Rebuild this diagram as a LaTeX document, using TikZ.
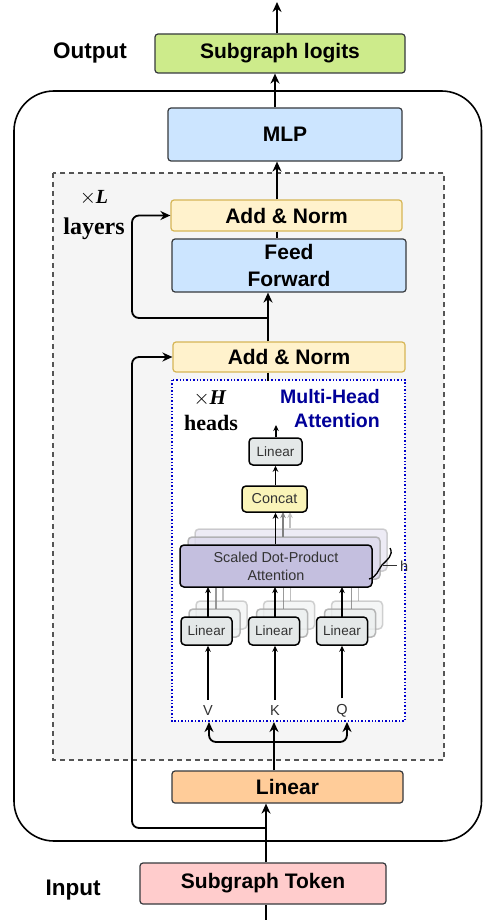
\documentclass[tikz,border=0pt]{standalone}
\usepackage{fontspec}
\setmainfont{Liberation Serif}
\setsansfont{Liberation Sans}
\usetikzlibrary{arrows.meta,calc}
\definecolor{cborder}{HTML}{36393D}
\definecolor{cgreen}{HTML}{CDEB8B}
\definecolor{cblue}{HTML}{CCE5FF}
\definecolor{cyel}{HTML}{FFF2CC}
\definecolor{cyelb}{HTML}{D6B656}
\definecolor{corange}{HTML}{FFCC99}
\definecolor{cpink}{HTML}{FFCCCC}
\definecolor{cdash}{HTML}{F5F5F5}
\definecolor{cdashb}{HTML}{555555}
\definecolor{cdot}{HTML}{0000CC}
\definecolor{cmha}{HTML}{000099}
\definecolor{clav}{HTML}{C4BFDF}
\definecolor{cconcat}{HTML}{FAF4B8}
\definecolor{clin}{HTML}{E4E8E8}
\definecolor{ctxt}{HTML}{333333}
\begin{document}
\begin{tikzpicture}[x=1pt,y=-1pt,
  box/.style={draw=cborder, line width=1.2pt, rounded corners=3pt, inner sep=0pt,
    font=\sffamily\bfseries\fontsize{21}{27}\selectfont, align=center},
  anbox/.style={box, draw=cyelb, fill=cyel},
  arr/.style={line width=1.8pt, -{Stealth[length=10pt,width=9pt]}},
  ln/.style={line width=1.8pt},
  lbl/.style={font=\sffamily\bfseries\fontsize{22.5}{27}\selectfont, inner sep=0pt},
  sm/.style={draw=black, line width=1.5pt, rounded corners=4pt, inner sep=0pt,
    text=ctxt, font=\sffamily\fontsize{13.5}{17}\selectfont, align=center},
  smsh/.style={draw=gray!70, line width=1.5pt, rounded corners=4pt},
  sarr/.style={line width=1.6pt, -{Stealth[length=6pt,width=5.5pt]}},
]
\useasboundingbox (0,0) rectangle (483,920);
\fill[white] (0,0) rectangle (483,920);

% outer container
\draw[line width=1.6pt, rounded corners=40pt] (14,91) rectangle (481.5,841);
% L layers container
\draw[cdashb, fill=cdash, line width=1.2pt, dash pattern=on 5pt off 4pt] (53,173) rectangle (444,760);

% labels
\node[lbl] (outlbl) at (90,53) {Output};
\node[lbl] (inlbl) at (73,890) {Input};
\node[inner sep=0pt, anchor=base, font=\fontsize{20}{22}\selectfont] (xl) at (94,203) {$\times$\textbf{\textit{L}}};
\node[inner sep=0pt, font=\bfseries\fontsize{24}{28}\selectfont] (layers) at (94,229) {layers};

% main boxes
\node[box, fill=cgreen, minimum width=250pt, minimum height=39pt] (logits) at (280,53.5) {Subgraph logits};
\node[box, fill=cblue, minimum width=234pt, minimum height=53pt] (mlp) at (285,134.5) {MLP};
\node[anbox, minimum width=231pt, minimum height=31pt] (an2) at (286.5,215.5) {Add \& Norm};
\node[box, fill=cblue, minimum width=234pt, minimum height=53pt] (ff) at (289,265.5) {Feed\\Forward};
\node[anbox, minimum width=232pt, minimum height=30pt] (an1) at (289,357) {Add \& Norm};
\node[box, fill=corange, minimum width=231pt, minimum height=32pt] (lin) at (287.5,787) {Linear};
\node[box, fill=cpink, minimum width=246pt, minimum height=41pt] (tok) at (263,883.5) {Subgraph Token};

% multi-head attention box
\draw[cdot, fill=white, line width=1.4pt, dotted] (172,380) rectangle (405,721);
\node[inner sep=0pt, anchor=base east, text=cmha, font=\sffamily\bfseries\fontsize{19.5}{24}\selectfont] (mhat) at (380,403) {Multi-Head};
\node[inner sep=0pt, anchor=base east, text=cmha, font=\sffamily\bfseries\fontsize{19.5}{24}\selectfont] (mhat2) at (380,427) {Attention};
\node[inner sep=0pt, anchor=base, font=\fontsize{21}{24}\selectfont] (xh) at (210,404) {$\times$\textbf{\textit{H}}};
\node[inner sep=0pt, anchor=base, font=\bfseries\fontsize{22}{26}\selectfont] (heads) at (211,430) {heads};

% inner figure: shadows
\foreach \dx/\dy/\op in {15/-16/0.5, 8/-8/0.8}{
  \draw[smsh, fill=clav!60, opacity=\op] (180+\dx,545+\dy) rectangle (372+\dx,587+\dy);
  \foreach \cx in {206.5,274,342}{
    \draw[smsh, fill=clin!70, opacity=\op] (\cx-25.5+\dx,617+\dy) rectangle (\cx+25.5+\dx,645+\dy);
    \draw[line width=1.5pt, draw=gray, opacity=\op] (\cx+1.5+\dx,617+\dy) -- (\cx+1.5+\dx,587+\dy);
  }
}
\draw[sarr, gray!50] (290,528) -- (290,512);
\draw[sarr, gray] (283,537) -- (283,512);

\node[sm, fill=clin, minimum width=53pt, minimum height=27pt] (lsm) at (275.5,451.5) {Linear};
\node[sm, fill=cconcat, minimum width=65pt, minimum height=26pt, font=\sffamily\fontsize{14.4}{17}\selectfont] (concat) at (274.5,499) {Concat};
\node[sm, fill=clav, minimum width=192pt, minimum height=42pt, font=\sffamily\fontsize{14.4}{18}\selectfont] (sdpa) at (276,566) {Scaled Dot-Product\\Attention};
\node[sm, fill=clin, minimum width=51pt, minimum height=28pt] (lv) at (206.5,631) {Linear};
\node[sm, fill=clin, minimum width=51pt, minimum height=28pt] (lk) at (274,631) {Linear};
\node[sm, fill=clin, minimum width=51pt, minimum height=28pt] (lq) at (342,631) {Linear};
\node[inner sep=0pt, text=ctxt, font=\sffamily\fontsize{14.5}{17}\selectfont] (V) at (208,711) {V};
\node[inner sep=0pt, text=ctxt, font=\sffamily\fontsize{14.5}{17}\selectfont] (K) at (275,711) {K};
\node[inner sep=0pt, text=ctxt, font=\sffamily\fontsize{14.5}{17}\selectfont] (Q) at (342,711) {Q};
\node[inner sep=0pt, anchor=west, text=ctxt, font=\sffamily\fontsize{14.5}{17}\selectfont] (h) at (400,566) {h};

% inner arrows
\coordinate (mhtop) at (276,425);
\draw[sarr] (lsm.north -| mhtop) -- (mhtop);
\draw[sarr] (concat.north -| lsm.south) -- (lsm.south);
\draw[sarr] (sdpa.north -| lsm.south) -- (concat.south -| lsm.south);
\foreach \n/\x in {lv/208,lk/275,lq/342}{
  \draw[sarr] (\x,617) -- (\x,587);
}
\draw[sarr] ($(V.north)+(0,-6)$) -- (lv.south -| V.north);
\draw[sarr] ($(K.north)+(0,-6)$) -- (lk.south -| K.north);
\draw[sarr] ($(Q.north)+(0,-6)$) -- (lq.south -| Q.north);

% h brace
\draw[line width=1.3pt] (390,548) .. controls (394,555) and (387,560) .. (382,565)
  .. controls (378,570) and (377,577) .. (369,579);
\draw[line width=1pt, ctxt] (383,565) -- (397,565);

% main connectors
\coordinate (topend) at (277,2);
\draw[arr] (logits.north -| topend) -- (topend);
\draw[arr] ($(mlp.north)+(-10,0)$) -- ($(logits.south)+(-5,0)$);
\draw[arr] ($(an2.north)+(-9.5,0)$) -- ($(mlp.south)+(-8,0)$);
\draw[ln] ($(an2.south)+(-9.5,0)$) -- ($(ff.north)+(-12,0)$);
\draw[arr] ($(an1.north)+(-21,0)$) -- ($(ff.south)+(-21,0)$);
\draw[ln] ($(an1.south)+(-21,0)$) -- ($(an1.south)+(-21,8)$);

\coordinate (res1) at (268,318);
\draw[arr, rounded corners=7pt] (res1) -- (132,318) -- (132,215.5) -- (an2.west);
\coordinate (res2) at (266,828);
\draw[arr, rounded corners=7pt] (res2) -- (132,828) -- (132,357) -- (an1.west);

\coordinate (botend) at (266,920);
\draw[ln] (botend) -- (tok.south -| botend);
\draw[arr] (tok.north -| botend) -- (lin.south -| botend);

\coordinate (kin) at (274,722);
\coordinate (vin) at (209,722);
\coordinate (qin) at (347,722);
\draw[arr] (lin.north -| kin) -- (kin);
\draw[arr, rounded corners=7pt] (274,742) -- (209,742) -- (vin);
\draw[arr, rounded corners=7pt] (274,742) -- (347,742) -- (qin);
\end{tikzpicture}
\end{document}
